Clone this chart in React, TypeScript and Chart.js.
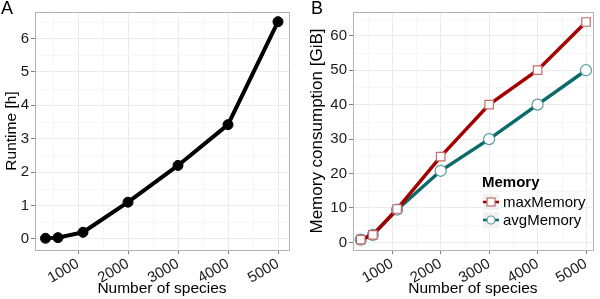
import React, { useEffect, useRef } from "react";
import { Chart, registerables } from "chart.js";

Chart.register(...registerables);

const speciesA = [350, 600, 1100, 2000, 3000, 4000, 5000];
const runtimeH = [0.02, 0.04, 0.2, 1.1, 2.2, 3.42, 6.5];

const speciesB = [350, 600, 1100, 2000, 3000, 4000, 5000];
const maxMemory = [0.8, 2.2, 9.7, 24.9, 40, 50, 64];
const avgMemory = [0.8, 2.2, 9.5, 20.8, 30, 40, 50];

const xTicks = [1000, 2000, 3000, 4000, 5000];
const yTicksA = [0, 1, 2, 3, 4, 5, 6];
const yTicksB = [0, 10, 20, 30, 40, 50, 60];

const seriesNames = ["maxMemory", "avgMemory"];
const legendTitle = "Memory";
const xTitle = "Number of species";
const yTitleA = "Runtime [h]";
const yTitleB = "Memory consumption [GiB]";

const FONT = "'Liberation Sans', Arial, sans-serif";
const MAJOR_GRID = "#ebebeb";
const MINOR_GRID = "#f6f6f6";
const TEXT = "#1a1a1a";

const borderPlugin = {
  id: "panelBorder",
  beforeDatasetsDraw(chart: any) {
    // minor grid lines (halfway between major ticks)
    const { ctx, chartArea, scales } = chart;
    ctx.save();
    ctx.strokeStyle = MINOR_GRID;
    ctx.lineWidth = 1;
    const xs = scales.x;
    const xt = xs.ticks.map((t: any) => t.value);
    const xStep = xt.length > 1 ? xt[1] - xt[0] : 1000;
    for (let v = xt[0] - xStep / 2; v < xs.max; v += xStep) {
      if (v <= xs.min) continue;
      const px = Math.round(xs.getPixelForValue(v)) + 0.5;
      ctx.beginPath();
      ctx.moveTo(px, chartArea.top);
      ctx.lineTo(px, chartArea.bottom);
      ctx.stroke();
    }
    const ys = scales.y;
    const yt = ys.ticks.map((t: any) => t.value);
    const yStep = yt.length > 1 ? yt[1] - yt[0] : 1;
    for (let v = yt[0] - yStep / 2; v < ys.max; v += yStep) {
      if (v <= ys.min) continue;
      const py = Math.round(ys.getPixelForValue(v)) + 0.5;
      ctx.beginPath();
      ctx.moveTo(chartArea.left, py);
      ctx.lineTo(chartArea.right, py);
      ctx.stroke();
    }
    ctx.restore();
  },
  afterDraw(chart: any) {
    const { ctx, chartArea } = chart;
    ctx.save();
    ctx.strokeStyle = "#b3b3b3";
    ctx.lineWidth = 1;
    ctx.strokeRect(
      Math.round(chartArea.left) + 0.5,
      Math.round(chartArea.top) + 0.5,
      Math.round(chartArea.right - chartArea.left),
      Math.round(chartArea.bottom - chartArea.top)
    );
    ctx.restore();
  },
};

const legendPlugin = {
  id: "ggLegend",
  afterDatasetsDraw(chart: any, _args: any, opts: any) {
    if (!opts || !opts.show) return;
    const { ctx } = chart;
    const x0 = opts.x;
    const y0 = opts.y;
    ctx.save();
    ctx.font = `bold 15px ${FONT}`;
    ctx.fillStyle = "#000";
    ctx.textBaseline = "middle";
    ctx.textAlign = "left";
    ctx.fillText(opts.title, x0, y0);
    chart.data.datasets.forEach((ds: any, i: number) => {
      const ky = y0 + 19 + i * 18;
      const kx = x0;
      ctx.fillStyle = "#f2f2f2";
      ctx.fillRect(kx, ky - 9, 18, 18);
      ctx.strokeStyle = "#ffffff";
      ctx.lineWidth = 1;
      ctx.strokeRect(kx + 0.5, ky - 8.5, 17, 17);
      ctx.strokeStyle = ds.borderColor;
      ctx.lineWidth = 2.5;
      ctx.beginPath();
      ctx.moveTo(kx + 1, ky);
      ctx.lineTo(kx + 17, ky);
      ctx.stroke();
      ctx.fillStyle = "#fff";
      ctx.strokeStyle = ds.pointBorderColor;
      ctx.lineWidth = 1.2;
      if (ds.pointStyle === "rect") {
        ctx.fillRect(kx + 5, ky - 4, 8, 8);
        ctx.strokeRect(kx + 5, ky - 4, 8, 8);
      } else {
        ctx.beginPath();
        ctx.arc(kx + 9, ky, 4, 0, Math.PI * 2);
        ctx.fill();
        ctx.stroke();
      }
      ctx.fillStyle = "#000";
      ctx.font = `15px ${FONT}`;
      ctx.fillText(ds.label, kx + 21, ky + 1);
    });
    ctx.restore();
  },
};

function makeScales(opt: {
  xMin: number;
  xMax: number;
  yMin: number;
  yMax: number;
  yTicks: number[];
  yWidth: number;
  xHeight: number;
  yTitle: string;
  yTitleSize: number;
  yTitlePad: number;
}) {
  return {
    x: {
      type: "linear",
      min: opt.xMin,
      max: opt.xMax,
      border: { display: false },
      grid: {
        color: MAJOR_GRID,
        tickColor: "#7f7f7f",
        tickLength: 4,
        lineWidth: 1,
      },
      afterBuildTicks: (s: any) => {
        s.ticks = xTicks.map((v) => ({ value: v }));
      },
      ticks: {
        autoSkip: false,
        maxRotation: 30,
        minRotation: 30,
        padding: 1,
        color: TEXT,
        font: { family: FONT, size: 15 },
        callback: (v: any) => String(v),
      },
      title: {
        display: true,
        text: xTitle,
        color: "#000",
        font: { family: FONT, size: 15.5 },
        padding: { top: 0, bottom: 1 },
      },
      afterFit: (s: any) => {
        s.height = opt.xHeight;
      },
    },
    y: {
      type: "linear",
      min: opt.yMin,
      max: opt.yMax,
      border: { display: false },
      grid: {
        color: MAJOR_GRID,
        tickColor: "#7f7f7f",
        tickLength: 4,
        lineWidth: 1,
      },
      afterBuildTicks: (s: any) => {
        s.ticks = opt.yTicks.map((v) => ({ value: v }));
      },
      ticks: {
        autoSkip: false,
        padding: 2,
        color: TEXT,
        font: { family: FONT, size: 15 },
        callback: (v: any) => String(Math.round(v)),
      },
      title: {
        display: true,
        text: opt.yTitle,
        color: "#000",
        font: { family: FONT, size: opt.yTitleSize },
        padding: { top: opt.yTitlePad, bottom: 0 },
      },
      afterFit: (s: any) => {
        s.width = opt.yWidth;
      },
    },
  };
}

function PanelA() {
  const ref = useRef<HTMLCanvasElement>(null);
  useEffect(() => {
    const chart = new Chart(ref.current as HTMLCanvasElement, {
      type: "line",
      data: {
        datasets: [
          {
            label: "Runtime",
            data: speciesA.map((x, i) => ({ x, y: runtimeH[i] })),
            borderColor: "#000000",
            backgroundColor: "#000000",
            borderWidth: 4,
            pointRadius: 5,
            pointBackgroundColor: "#000000",
            pointBorderColor: "#000000",
            pointBorderWidth: 1,
          },
        ],
      },
      options: {
        animation: false,
        responsive: false,
        layout: { padding: { top: 12, right: 11, left: 0, bottom: 0 } },
        plugins: { legend: { display: false }, tooltip: { enabled: false } },
        scales: makeScales({
          xMin: 140,
          xMax: 5220,
          yMin: -0.33,
          yMax: 6.79,
          yTicks: yTicksA,
          yWidth: 35,
          xHeight: 49,
          yTitle: yTitleA,
          yTitleSize: 15.5,
          yTitlePad: 2,
        }) as any,
      } as any,
      plugins: [borderPlugin],
    });
    return () => chart.destroy();
  }, []);
  return <canvas ref={ref} width={300} height={299} style={{ position: "absolute", left: 0, top: 0 }} />;
}

function PanelB() {
  const ref = useRef<HTMLCanvasElement>(null);
  useEffect(() => {
    const chart = new Chart(ref.current as HTMLCanvasElement, {
      type: "line",
      data: {
        datasets: [
          {
            label: seriesNames[0],
            data: speciesB.map((x, i) => ({ x, y: maxMemory[i] })),
            borderColor: "#a50000",
            backgroundColor: "#ffffff",
            borderWidth: 3.5,
            pointStyle: "rect",
            pointRadius: 6,
            pointBackgroundColor: "#ffffff",
            pointBorderColor: "#c46a6a",
            pointBorderWidth: 1.2,
          },
          {
            label: seriesNames[1],
            data: speciesB.map((x, i) => ({ x, y: avgMemory[i] })),
            borderColor: "#0b6b6b",
            backgroundColor: "#ffffff",
            borderWidth: 3.5,
            pointStyle: "circle",
            pointRadius: 5.5,
            pointBackgroundColor: "#ffffff",
            pointBorderColor: "#5a9c9c",
            pointBorderWidth: 1.2,
          },
        ],
      },
      options: {
        animation: false,
        responsive: false,
        layout: { padding: { top: 12, right: 5, left: 0, bottom: 0 } },
        plugins: {
          legend: { display: false },
          tooltip: { enabled: false },
          ggLegend: { show: true, x: 182, y: 183, title: legendTitle },
        },
        scales: makeScales({
          xMin: 190,
          xMax: 5140,
          yMin: -2.2,
          yMax: 66.9,
          yTicks: yTicksB,
          yWidth: 53,
          xHeight: 49,
          yTitle: yTitleB,
          yTitleSize: 17,
          yTitlePad: 7,
        }) as any,
      } as any,
      plugins: [borderPlugin, legendPlugin],
    });
    return () => chart.destroy();
  }, []);
  return <canvas ref={ref} width={300} height={299} style={{ position: "absolute", left: 300, top: 0 }} />;
}

export default function App() {
  return (
    <div style={{ position: "fixed", left: 0, top: 0, width: 600, height: 299, background: "#fff", overflow: "hidden" }}>
      <PanelA />
      <PanelB />
      <div style={{ position: "absolute", left: 1, top: -2, fontFamily: FONT, fontSize: 18, color: "#000" }}>A</div>
      <div style={{ position: "absolute", left: 311, top: -2, fontFamily: FONT, fontSize: 18, color: "#000" }}>B</div>
    </div>
  );
}
